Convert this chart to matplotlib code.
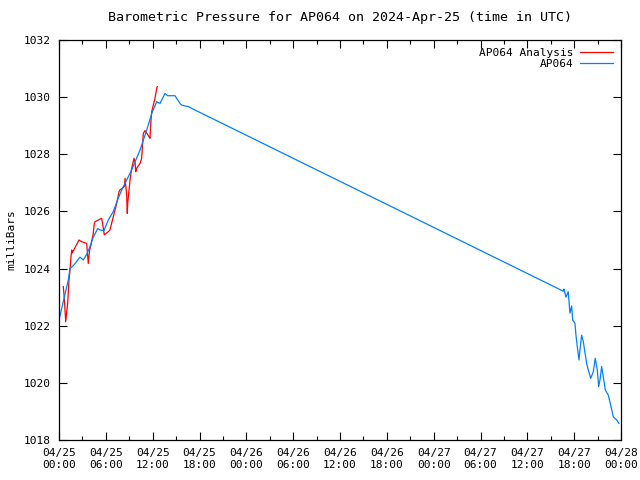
import numpy as np
import matplotlib
matplotlib.use("Agg")
import matplotlib.pyplot as plt
import matplotlib.dates as mdates

# hours since 2024-04-25 00:00 UTC
obs_hours = [0.0, 0.77, 1.19, 1.41, 1.83, 2.69, 3.11, 3.55, 3.97, 4.39, 4.96,
             5.25, 5.76, 6.32, 6.96, 7.6, 8.03, 8.67, 9.31, 10.38, 11.24, 11.88,
             12.52, 12.94, 13.58, 13.93, 14.86, 15.5, 15.72, 16.56, 17.42,
             64.6, 64.69, 64.95, 65.24, 65.46, 65.68, 65.81, 66.1, 66.23,
             66.4, 66.62, 66.74, 66.96, 67.17, 67.6, 67.81, 68.12, 68.45, 68.7,
             68.96, 69.14, 69.31, 69.52, 69.73, 69.99, 70.37, 70.68, 71.01,
             71.45, 71.74]
obs_mb = [1022.2, 1023.1, 1023.6, 1024.0, 1024.1, 1024.4, 1024.3, 1024.5,
          1024.77, 1025.1, 1025.4, 1025.35, 1025.33, 1025.7, 1026.0, 1026.47,
          1026.75, 1027.1, 1027.45, 1028.15, 1028.85, 1029.43, 1029.84,
          1029.78, 1030.13, 1030.05, 1030.05, 1029.78, 1029.72, 1029.67,
          1029.55, 1023.21, 1023.28, 1023.0, 1023.19, 1022.44,
          1022.69, 1022.2, 1022.09, 1021.67, 1021.27, 1020.8, 1021.15,
          1021.67, 1021.44, 1020.68, 1020.45, 1020.16, 1020.39, 1020.86,
          1020.45, 1019.87, 1020.1, 1020.57, 1020.22, 1019.75, 1019.57,
          1019.22, 1018.81, 1018.7, 1018.58]

ana_hours = [0.55, 0.68, 0.86, 0.99, 1.11, 1.28, 1.41, 1.54, 1.63, 1.7, 2.56,
             2.91, 3.55, 3.63, 3.75, 3.84, 3.93, 4.1, 4.39, 4.52, 4.61, 5.47,
             5.68, 5.8, 6.32, 6.53, 6.96, 7.39, 7.69, 7.81, 8.37, 8.46, 8.67,
             8.75, 8.8, 9.1, 9.31, 9.61, 9.74, 9.83, 9.95, 10.38, 10.59, 10.8,
             11.02, 11.53, 11.66, 11.75, 11.88, 12.08, 12.3, 12.52, 12.59]
ana_mb = [1023.37, 1022.96, 1022.14, 1022.49, 1022.78, 1023.6, 1023.95,
          1024.42, 1024.65, 1024.55, 1025.0, 1024.94, 1024.88, 1024.59,
          1024.18, 1024.42, 1024.65, 1024.83, 1025.23, 1025.58, 1025.64,
          1025.76, 1025.41, 1025.18, 1025.29, 1025.35, 1025.82, 1026.28,
          1026.69, 1026.75, 1026.87, 1027.16, 1026.57, 1025.93, 1026.28,
          1027.1, 1027.51, 1027.86, 1027.74, 1027.39, 1027.51, 1027.68,
          1027.86, 1028.73, 1028.83, 1028.62, 1028.56, 1029.08, 1029.49,
          1029.72, 1029.96, 1030.31, 1030.37]

start = np.datetime64("2024-04-25T00:00")
def to_time(hours):
    return start + (np.array(hours) * 3600).astype("timedelta64[s]")

plt.rcParams["font.family"] = "DejaVu Sans Mono"
plt.rcParams["font.size"] = 8

fig = plt.figure(figsize=(6.4, 4.8), dpi=100)
ax = fig.add_axes([59 / 640, 40 / 480, 562 / 640, 400 / 480])

ax.plot(to_time(ana_hours), ana_mb, color="#ff0000", lw=0.9, label="AP064 Analysis")
ax.plot(to_time(obs_hours), obs_mb, color="#0080ff", lw=0.9, label="AP064")

ax.set_xlim(start, start + np.timedelta64(72, "h"))
ax.set_ylim(1018, 1032)
ax.set_yticks(np.arange(1018, 1033, 2))
ax.xaxis.set_major_locator(mdates.HourLocator(byhour=[0, 6, 12, 18]))
ax.xaxis.set_minor_locator(mdates.HourLocator(byhour=[3, 9, 15, 21]))
ax.xaxis.set_major_formatter(mdates.DateFormatter("%m/%d\n%H:%M"))

ax.tick_params(which="both", direction="in", top=True, right=True, color="black")
ax.tick_params(which="major", length=6, width=0.8, pad=6)
ax.tick_params(which="minor", length=3, width=0.8)
for s in ax.spines.values():
    s.set_linewidth(0.9)

ax.set_ylabel("milliBars", labelpad=5)
ax.set_title("Barometric Pressure for AP064 on 2024-Apr-25 (time in UTC)", pad=14)

ax.legend(loc="upper right", frameon=False, markerfirst=False, handlelength=3,
          handletextpad=0.6, borderaxespad=0.3, labelspacing=0.1)

fig.savefig("out.png", dpi=100)
